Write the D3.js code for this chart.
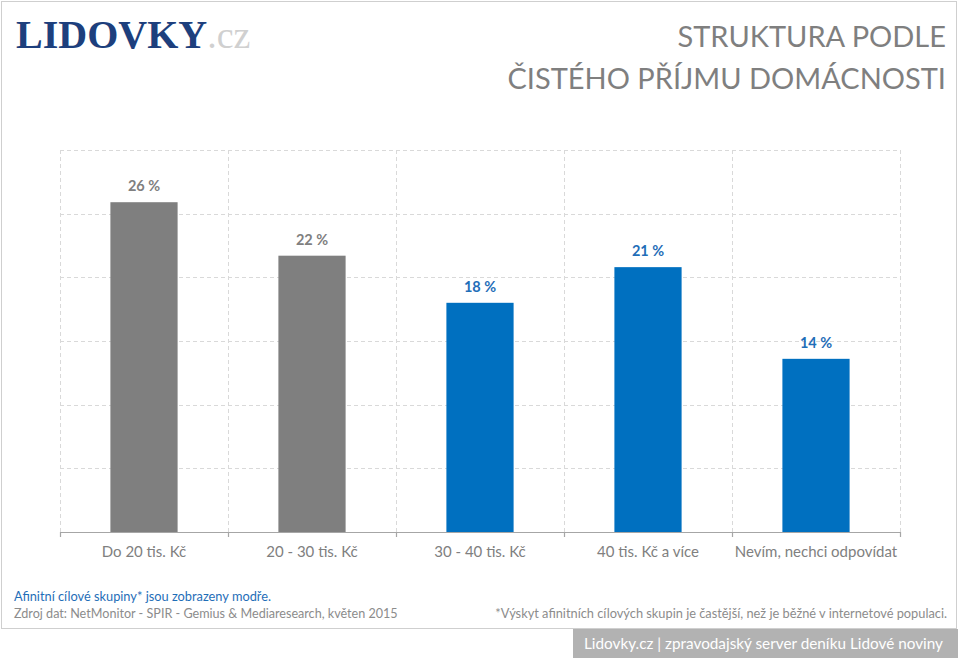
<!DOCTYPE html>
<html><head><meta charset="utf-8">
<script src="https://cdn.jsdelivr.net/npm/d3@7"></script>
<style>body{margin:0;background:#fff}svg{display:block}</style>
</head><body>
<svg id="c" width="960" height="660"></svg>
<script>
const categories = ["Do 20 tis. Kč","20 - 30 tis. Kč","30 - 40 tis. Kč","40 tis. Kč a více","Nevím, nechci odpovídat"];
const values = [25.9, 21.7, 18.0, 20.8, 13.6];
const valueLabels = ["26 %","22 %","18 %","21 %","14 %"];
const affinity = [false, false, true, true, true];
const yTicks = [0, 5, 10, 15, 20, 25, 30];

(function(){
const FONT = "Lato, 'Open Sans', sans-serif";
const svg = d3.select("#c");

// frame
svg.append("rect").attr("x",1.5).attr("y",1.5).attr("width",955).attr("height",627)
  .attr("fill","#fff").attr("stroke","#cfcfcf");

// logo (single text element)
const logo = svg.append("text").attr("x",16).attr("y",48)
  .attr("font-family","'Liberation Serif','DejaVu Serif',serif").attr("font-size",40);
logo.append("tspan").attr("font-weight","bold").attr("fill","#1d3f7d").text("LIDOVKY");
logo.append("tspan").attr("font-size",38).attr("fill","#d0d0d0").text(".cz");

// title
svg.append("text").attr("x",946).attr("y",47).attr("text-anchor","end")
  .attr("font-family",FONT).attr("font-size",29).attr("fill","#7f7f7f").text("STRUKTURA PODLE");
svg.append("text").attr("x",946).attr("y",89).attr("text-anchor","end")
  .attr("font-family",FONT).attr("font-size",29).attr("fill","#7f7f7f").text("ČISTÉHO PŘÍJMU DOMÁCNOSTI");

// chart
const pl = 60, pr = 900, pt = 150, pb = 532;
const x = d3.scaleBand().domain(categories).range([pl, pr]).paddingInner(0.6).paddingOuter(0.3);
const y = d3.scaleLinear().domain([0, 30]).range([pb, pt]);
const step = x.step();

const g = svg.append("g");
g.selectAll("line.h").data(yTicks.slice(1)).join("line")
  .attr("x1",pl).attr("x2",pr).attr("y1",d=>Math.round(y(d))+0.5).attr("y2",d=>Math.round(y(d))+0.5)
  .attr("stroke","#d9d9d9").attr("stroke-dasharray","4,3");
const bounds = d3.range(categories.length+1).map(i => pl + i*step);
g.selectAll("line.v").data(bounds).join("line")
  .attr("x1",d=>Math.round(d)+0.5).attr("x2",d=>Math.round(d)+0.5).attr("y1",pt).attr("y2",pb)
  .attr("stroke","#d9d9d9").attr("stroke-dasharray","4,3");

g.selectAll("rect.bar").data(values).join("rect")
  .attr("x",(d,i)=>x(categories[i])).attr("width",x.bandwidth())
  .attr("y",d=>y(d)).attr("height",d=>pb-y(d))
  .attr("fill",(d,i)=>affinity[i] ? "#0070c0" : "#7f7f7f");

g.selectAll("text.val").data(values).join("text")
  .attr("x",(d,i)=>x(categories[i])+x.bandwidth()/2).attr("y",d=>y(d)-11)
  .attr("text-anchor","middle").attr("font-family",FONT).attr("font-size",14.5).attr("font-weight","bold")
  .attr("fill",(d,i)=>affinity[i] ? "#1f6eb8" : "#808080")
  .text((d,i)=>valueLabels[i]);

const axis = d3.axisBottom(x).tickSize(0).tickPadding(14);
const ax = svg.append("g").attr("transform",`translate(0,${pb})`).call(axis);
ax.select(".domain").remove();
ax.selectAll("text").attr("font-family",FONT).attr("font-size",15).attr("fill","#808080");
svg.append("line").attr("x1",pl).attr("x2",pr).attr("y1",pb+0.5).attr("y2",pb+0.5)
  .attr("stroke","#a6a6a6").attr("stroke-width",1.2);
svg.selectAll("line.tk").data(bounds).join("line")
  .attr("x1",d=>Math.round(d)+0.5).attr("x2",d=>Math.round(d)+0.5).attr("y1",pb).attr("y2",pb+5)
  .attr("stroke","#a6a6a6").attr("stroke-width",1.2);

svg.append("text").attr("x",14).attr("y",601).attr("font-family",FONT).attr("font-size",12.8)
  .attr("fill","#1f6eb8").text("Afinitní cílové skupiny* jsou zobrazeny modře.");
svg.append("text").attr("x",14).attr("y",618).attr("font-family",FONT).attr("font-size",12.6)
  .attr("fill","#8c8c8c").text("Zdroj dat: NetMonitor - SPIR - Gemius & Mediaresearch, květen 2015");
svg.append("text").attr("x",947).attr("y",618).attr("text-anchor","end").attr("font-family",FONT).attr("font-size",12.8)
  .attr("fill","#8c8c8c").text("*Výskyt afinitních cílových skupin je častější, než je běžné v internetové populaci.");

svg.append("rect").attr("x",573).attr("y",629).attr("width",385).attr("height",29).attr("fill","#b2b2b2");
svg.append("text").attr("x",943).attr("y",649).attr("text-anchor","end").attr("font-family",FONT).attr("font-size",15.3)
  .attr("fill","#fff").text("Lidovky.cz | zpravodajský server deníku Lidové noviny");
})();
</script>
</body></html>
